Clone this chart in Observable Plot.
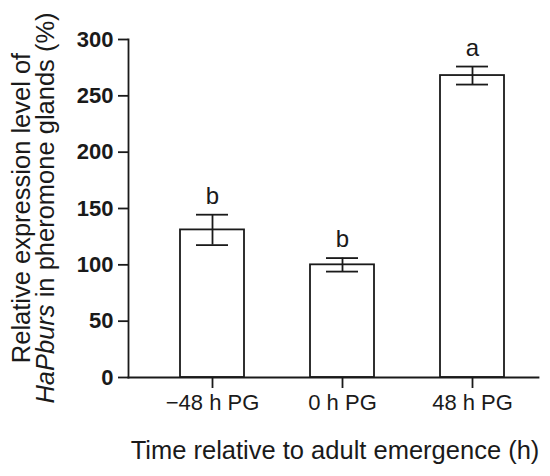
<!DOCTYPE html>
<html>
<head>
<meta charset="utf-8">
<script src="https://cdn.jsdelivr.net/npm/d3@7"></script>
<script src="https://cdn.jsdelivr.net/npm/@observablehq/plot@0.6"></script>
<style>
  html, body { margin: 0; padding: 0; background: #fff; }
  #chart { width: 550px; height: 476px; }
</style>
</head>
<body>
<div id="chart"></div>
<script>
const categories = ["−48 h PG", "0 h PG", "48 h PG"];
const means = [131, 100, 268];
const errors = [13.5, 6, 8];
const letters = ["b", "b", "a"];
const yTicks = [0, 50, 100, 150, 200, 250, 300];

const data = categories.map((c, i) => ({
  cat: c, mean: means[i], lo: means[i] - errors[i], hi: means[i] + errors[i], letter: letters[i]
}));

const ink = "#1a1a1a";
const font = "'Liberation Sans', Arial, Helvetica, sans-serif";
const sw = 1.8;

const plot = Plot.plot({
  width: 550,
  height: 476,
  marginLeft: 128,
  marginRight: 12,
  marginTop: 39,
  marginBottom: 99,
  style: { fontFamily: font, color: ink, background: "#fff" },
  x: { domain: categories, insetLeft: 51, insetRight: 33, paddingInner: 0.51, paddingOuter: 0, label: null },
  y: { domain: [0, 300], label: null },
  marks: [
    Plot.barY(data, { x: "cat", y: "mean", fill: "white", stroke: ink, strokeWidth: sw }),
    Plot.ruleX(data, { x: "cat", y1: "lo", y2: "hi", stroke: ink, strokeWidth: sw }),
    Plot.tickY(data, { x: "cat", y: "lo", stroke: ink, strokeWidth: sw, insetLeft: 16, insetRight: 16 }),
    Plot.tickY(data, { x: "cat", y: "hi", stroke: ink, strokeWidth: sw, insetLeft: 16, insetRight: 16 }),
    Plot.text(data, { x: "cat", y: "hi", text: "letter", dy: -11, lineAnchor: "bottom", fontSize: 24, fill: ink }),
    Plot.frame({ anchor: "left", stroke: ink, strokeWidth: sw }),
    Plot.frame({ anchor: "bottom", stroke: ink, strokeWidth: sw }),
    Plot.axisY({ ticks: yTicks, tickSize: 10, tickPadding: 5, fontSize: 22, fontWeight: "bold", stroke: ink, strokeWidth: sw, label: null }),
    Plot.axisX({ tickSize: 11, tickPadding: 6, fontSize: 22, stroke: ink, strokeWidth: sw, label: null })
  ]
});

document.getElementById("chart").appendChild(plot);

const svg = d3.select(plot);
// x-axis title
svg.append("text")
  .attr("x", 335).attr("y", 459)
  .attr("text-anchor", "middle")
  .attr("font-family", font)
  .attr("font-size", 25.5)
  .attr("fill", ink)
  .text("Time relative to adult emergence (h)");

// y-axis title (two lines, italic gene name)
const yt = svg.append("text")
  .attr("transform", "translate(0,208) rotate(-90)")
  .attr("text-anchor", "middle")
  .attr("font-family", font)
  .attr("font-size", 25.5)
  .attr("fill", ink);
yt.append("tspan").attr("x", 0).attr("y", 30).text("Relative expression level of");
const l2 = yt.append("tspan").attr("x", 0).attr("y", 54);
l2.append("tspan").attr("font-style", "italic").text("HaPburs");
yt.append("tspan").text(" in pheromone glands (%)");
</script>
</body>
</html>
